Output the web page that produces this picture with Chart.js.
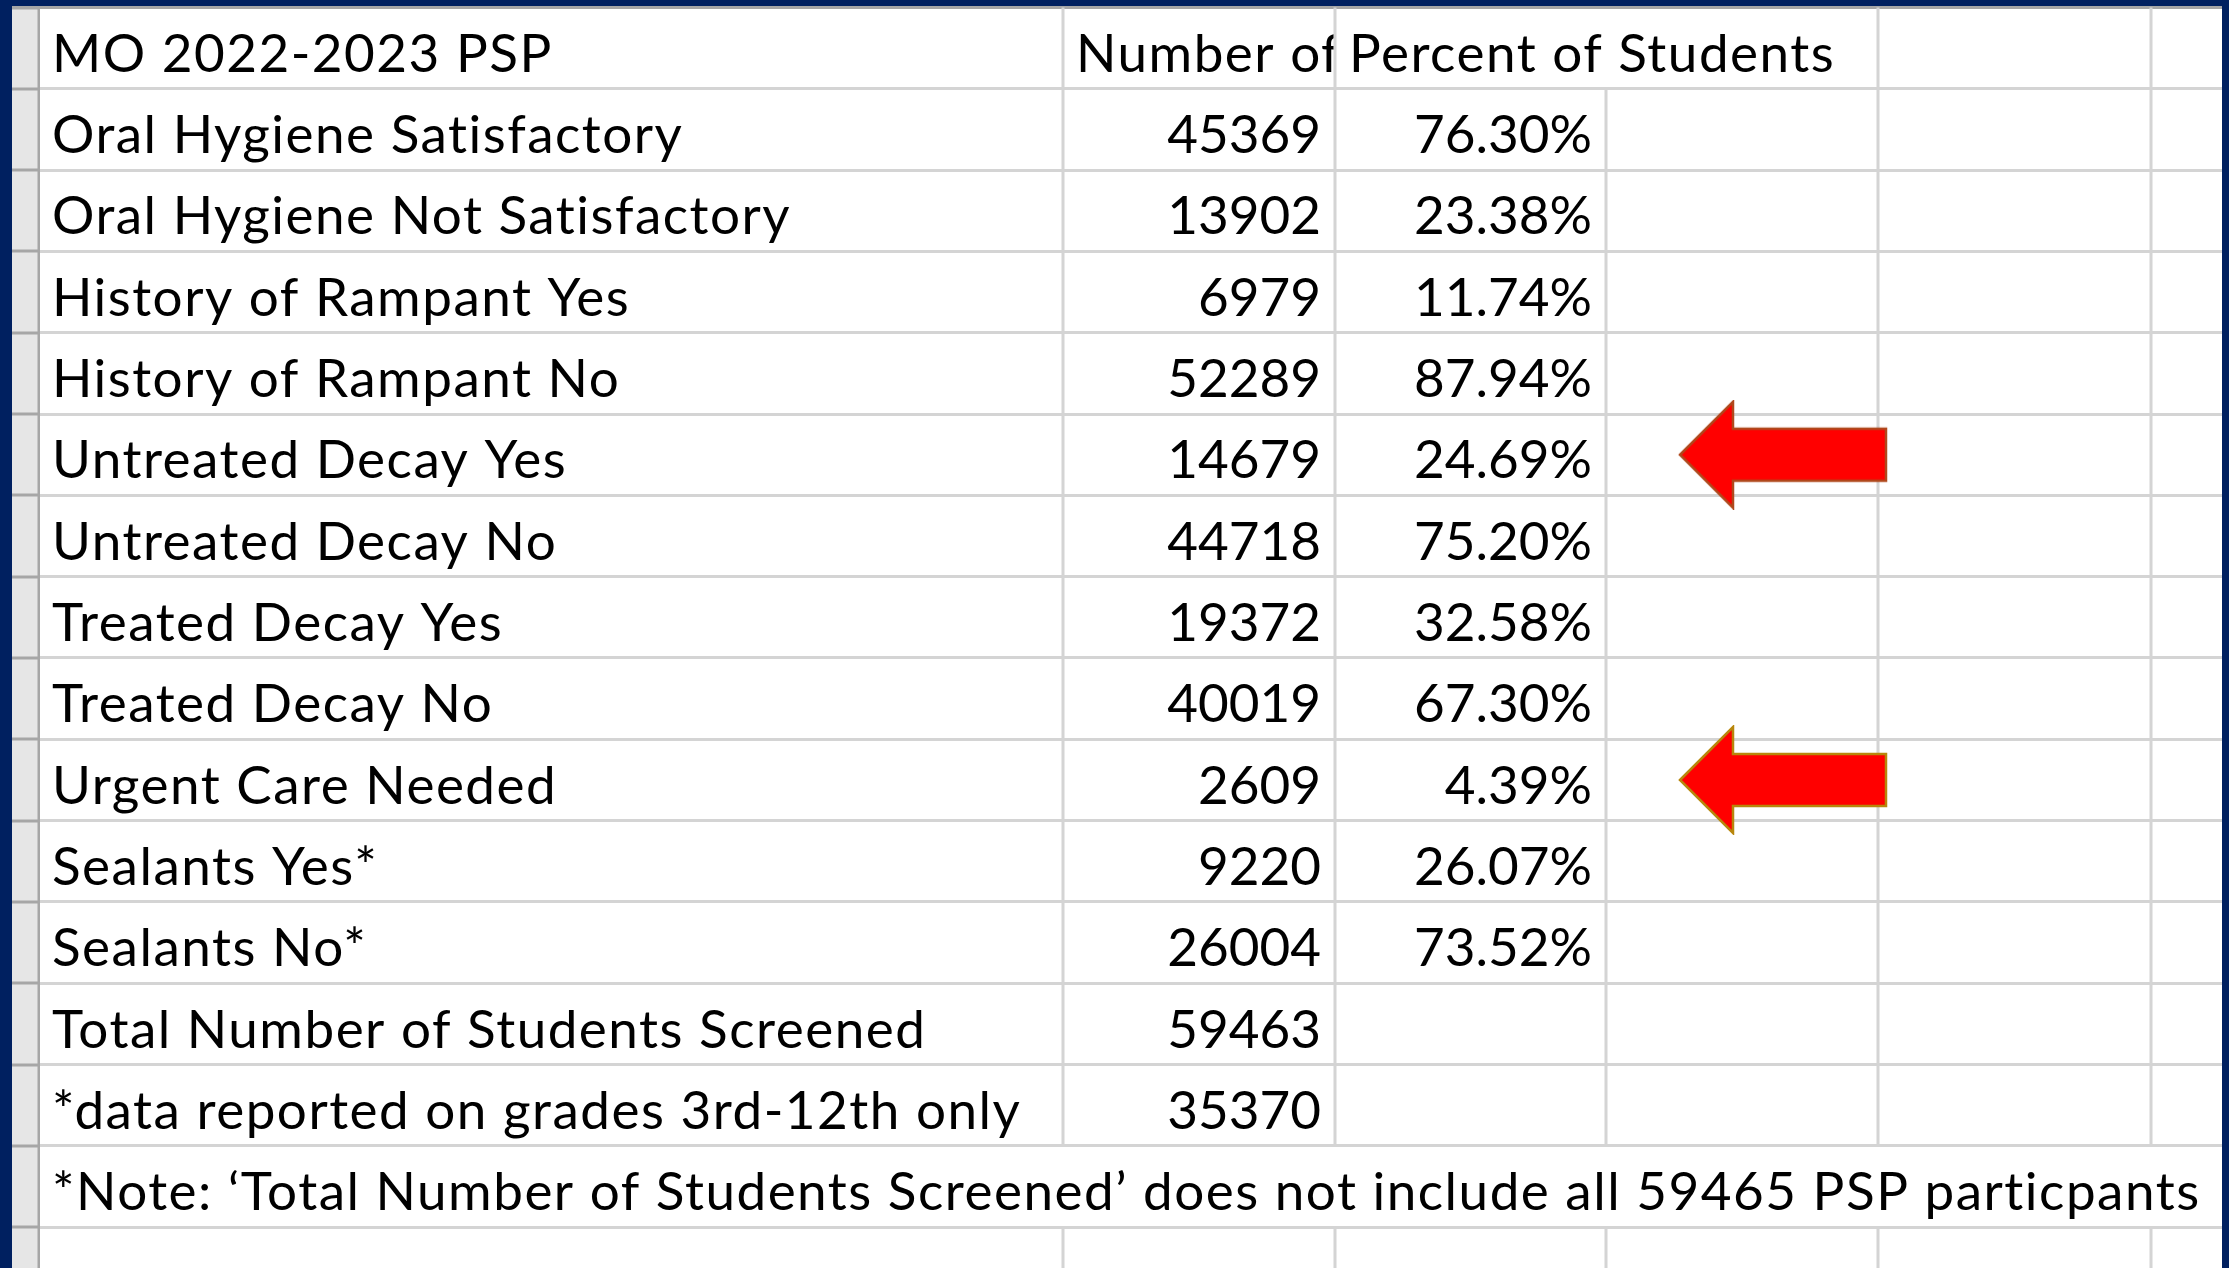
<!DOCTYPE html>
<html>
<head>
<meta charset="utf-8">
<title>MO 2022-2023 PSP</title>
<script src="https://cdn.jsdelivr.net/npm/chart.js@4.4.1/dist/chart.umd.min.js"></script>
<style>
  html, body { margin: 0; padding: 0; background: #002060; overflow: hidden; }
  canvas { display: block; }
</style>
</head>
<body>
<canvas id="sheet" width="2229" height="1268"></canvas>
<script>
const title = "MO 2022-2023 PSP";
const countHeader = "Number of Students";
const percentHeader = "Percent of Students";
const categories = [
  "Oral Hygiene Satisfactory",
  "Oral Hygiene Not Satisfactory",
  "History of Rampant Yes",
  "History of Rampant No",
  "Untreated Decay Yes",
  "Untreated Decay No",
  "Treated Decay Yes",
  "Treated Decay No",
  "Urgent Care Needed",
  "Sealants Yes*",
  "Sealants No*",
  "Total Number of Students Screened",
  "*data reported on grades 3rd-12th only",
];
const counts = [45369, 13902, 6979, 52289, 14679, 44718, 19372, 40019, 2609, 9220, 26004, 59463, 35370];
const percents = [76.30, 23.38, 11.74, 87.94, 24.69, 75.20, 32.58, 67.30, 4.39, 26.07, 73.52, null, null];
const note = "*Note: \u2018Total Number of Students Screened\u2019 does not include all 59465 PSP particpants";
const flagged = ["Untreated Decay Yes", "Urgent Care Needed"];
const arrowEdges = ["#b0481c", "#b8860b"];

// sheet layout: row header column, then columns A..F (widths in px)
const colWidths = [28, 1023, 272, 271, 272, 273, 71];
const colEdges = [0];
colWidths.forEach(w => colEdges.push(colEdges[colEdges.length - 1] + w));
const rowHeight = 81.7;
const visibleRows = (1268 - 7.5) / rowHeight;
const font = "53px Lato";
const textSpacing = "1.5px";
const lineColor = "#d4d4d4";
const headColor = "#a6a6a6";

function makeArrow(edge) {
  const c = document.createElement("canvas");
  c.width = 212;
  c.height = 110;
  const g = c.getContext("2d");
  g.beginPath();
  g.moveTo(3, 55);
  g.lineTo(56, 2);
  g.lineTo(56, 29);
  g.lineTo(209, 29);
  g.lineTo(209, 81);
  g.lineTo(56, 81);
  g.lineTo(56, 108);
  g.closePath();
  g.fillStyle = "#ff0000";
  g.fill();
  g.lineWidth = 2.5;
  g.strokeStyle = edge;
  g.stroke();
  return c;
}
const arrows = arrowEdges.map(makeArrow);

const sheetPlugin = {
  id: "sheet",
  beforeDraw(chart) {
    const ctx = chart.ctx;
    const area = chart.chartArea;
    ctx.save();
    ctx.fillStyle = "#002060";
    ctx.fillRect(0, 0, chart.width, chart.height);
    ctx.fillStyle = "#ffffff";
    ctx.fillRect(area.left, area.top, area.right - area.left, chart.height - area.top);
    ctx.restore();
  },
  beforeDatasetsDraw(chart) {
    const ctx = chart.ctx;
    const x = chart.scales.x;
    const y = chart.scales.y;
    const px = v => x.getPixelForValue(v);
    const py = v => y.getPixelForValue(v);
    const bottom = chart.height;
    ctx.save();

    // column lines, cell by cell
    ctx.fillStyle = lineColor;
    for (let j = 0; j < Math.ceil(visibleRows); j++) {
      if (j === categories.length + 1) continue; // note row spans all columns
      const top = py(j);
      const end = Math.min(py(j + 1), bottom);
      for (let k = 2; k <= 6; k++) {
        if (j === 0 && k === 4) continue; // header text overflows into D
        ctx.fillRect(Math.round(px(colEdges[k])) - 1.5, top, 3, end - top);
      }
    }

    // row header column
    ctx.fillStyle = "#e6e6e6";
    ctx.fillRect(px(0), py(0), px(colEdges[1]) - px(0), bottom - py(0));
    ctx.fillStyle = headColor;
    for (let j = 0; j <= Math.floor(visibleRows); j++) {
      ctx.fillRect(px(0), Math.round(py(j)) - 1.5, px(colEdges[1]) - px(0), 3);
    }
    ctx.fillRect(px(colEdges[1]) - 2.5, py(0), 2.5, bottom - py(0));

    // cell text
    ctx.font = font;
    ctx.fillStyle = "#000000";
    ctx.textBaseline = "alphabetic";
    const base = j => py(j + 1) - 17;
    const words = (str, xPos, yPos) => {
      ctx.letterSpacing = textSpacing;
      ctx.textAlign = "left";
      ctx.fillText(str, xPos, yPos);
      ctx.letterSpacing = "0px";
    };

    words(title, px(colEdges[1]) + 12, base(0));
    ctx.save();
    ctx.beginPath();
    ctx.rect(px(colEdges[2]), py(0), px(colEdges[3]) - px(colEdges[2]) - 1.5, py(1) - py(0));
    ctx.clip();
    words(countHeader, px(colEdges[2]) + 13, base(0));
    ctx.restore();
    words(percentHeader, px(colEdges[3]) + 14, base(0));

    categories.forEach((label, i) => {
      const j = i + 1;
      words(label, px(colEdges[1]) + 12, base(j));
      ctx.textAlign = "right";
      ctx.fillText(String(counts[i]), px(colEdges[3]) - 14, base(j));
      if (percents[i] !== null) {
        ctx.fillText(percents[i].toFixed(2) + "%", px(colEdges[4]) - 14, base(j));
      }
    });
    words(note, px(colEdges[1]) + 12, base(categories.length + 1));
    ctx.restore();
  },
};

new Chart(document.getElementById("sheet"), {
  type: "scatter",
  data: {
    datasets: [
      {
        label: "flagged",
        data: flagged.map(label => ({ x: colEdges[4] + 177, y: categories.indexOf(label) + 1.5 })),
        pointStyle: ctx => arrows[ctx.dataIndex],
        pointRadius: 5,
        showLine: false,
      },
    ],
  },
  options: {
    responsive: false,
    animation: false,
    devicePixelRatio: 1,
    events: [],
    layout: { padding: { left: 12, right: 7, top: 7.5, bottom: 0 } },
    plugins: { legend: { display: false }, tooltip: { enabled: false } },
    scales: {
      x: {
        type: "linear",
        min: 0,
        max: colEdges[colEdges.length - 1],
        display: false,
      },
      y: {
        type: "linear",
        reverse: true,
        min: 0,
        max: visibleRows,
        afterBuildTicks: scale => {
          scale.ticks = [];
          for (let j = 0; j <= Math.floor(visibleRows); j++) scale.ticks.push({ value: j });
        },
        ticks: { display: false },
        border: { display: false },
        grid: {
          drawTicks: false,
          lineWidth: 3,
          color: ctx => (ctx.tick && ctx.tick.value === 0 ? headColor : lineColor),
        },
      },
    },
  },
  plugins: [sheetPlugin],
});
</script>
</body>
</html>
